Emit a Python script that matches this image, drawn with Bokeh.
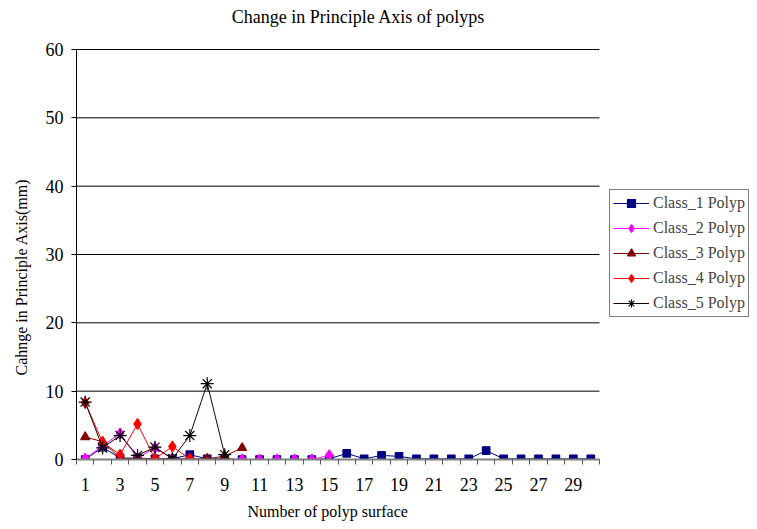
import math
from bokeh.plotting import figure
from bokeh.models import (Range1d, FixedTicker, Legend, LegendItem, Title, Label)
from bokeh.embed import file_html
from bokeh.resources import INLINE

# ---- data ----
surfaces = list(range(1, 31))
class_1 = [0.0, 1.8, 0.2, 0.2, 0.1, 0.1, 0.7, 0.1, 0.1, 0.0, 0.0, 0.0, 0.0, 0.0, 0.1,
           0.9, 0.1, 0.6, 0.45, 0.1, 0.1, 0.1, 0.1, 1.3, 0.1, 0.1, 0.1, 0.1, 0.1, 0.1]
class_2 = [0.1, 2.0, 3.8, 0.2, 1.7, 0.1, 0.0, 0.0, 0.0, 0.0, 0.0, 0.0, 0.0, 0.0, 0.6]
class_3 = [3.3, 2.6, 0.2, 0.1, 0.1, 0.1, 0.1, 0.1, 0.5, 1.7]
class_4 = [8.3, 2.5, 0.7, 5.2, 0.1, 1.9, 0.1]
class_5 = [8.4, 1.7, 3.5, 0.6, 1.8, 0.1, 3.5, 11.1, 0.7]
series_names = ["Class_1 Polyp", "Class_2 Polyp", "Class_3 Polyp", "Class_4 Polyp", "Class_5 Polyp"]
y_ticks = [0, 10, 20, 30, 40, 50, 60]
x_tick_labels = ["1", "3", "5", "7", "9", "11", "13", "15", "17", "19", "21", "23", "25", "27", "29"]
title_text = "Change in Principle Axis of polyps"

FONT = "Liberation Serif"

# layout (pixels): plot area 523x410, extended right for the legend and up for the title
PLOT_W, PLOT_H = 523, 410
FRAME_W, FRAME_H = 674, 459
x_lo, x_hi = 0.5, 30.5
y_lo, y_hi = 0, 60
x_end = x_lo + (x_hi - x_lo) * FRAME_W / PLOT_W
y_end = y_lo + (y_hi - y_lo) * FRAME_H / PLOT_H
px_x = (x_hi - x_lo) / PLOT_W
px_y = (y_hi - y_lo) / PLOT_H

p = figure(frame_width=FRAME_W, frame_height=FRAME_H, output_backend="svg", toolbar_location=None,
           x_range=Range1d(x_lo, x_end), y_range=Range1d(y_lo, y_end),
           min_border_left=76, min_border_right=0, min_border_top=0, min_border_bottom=66)
p.outline_line_color = None
p.background_fill_color = "white"
p.border_fill_color = "white"

# chart title (centred at 282 px right of the plot's left edge, 33 px above its top)
p.add_layout(Label(x=x_lo + 282 * px_x, y=y_hi + 33 * px_y, text=title_text,
                   text_align="center", text_baseline="middle",
                   text_font=FONT, text_font_size="18px", text_color="black"))

# grid lines only across the category area
p.xgrid.grid_line_color = None
p.ygrid.grid_line_color = None
p.segment(x0=[x_lo] * len(y_ticks), y0=y_ticks, x1=[x_hi] * len(y_ticks), y1=y_ticks,
          line_color="black", line_width=1)

# x axis
odd = [int(s) for s in x_tick_labels]
p.xaxis.ticker = FixedTicker(ticks=odd, minor_ticks=[s - 0.5 for s in surfaces] + [x_hi])
p.xaxis.major_label_overrides = {o: lab for o, lab in zip(odd, x_tick_labels)}
p.xaxis.bounds = (x_lo, x_hi)
p.xaxis.axis_line_color = "#808080"
p.xaxis.axis_line_width = 2
p.xaxis.major_tick_out = 0
p.xaxis.major_tick_in = 0
p.xaxis.minor_tick_out = 5
p.xaxis.minor_tick_in = 0
p.xaxis.minor_tick_line_color = "#555555"
p.xaxis.major_label_standoff = 13

# y axis
p.yaxis.ticker = FixedTicker(ticks=y_ticks)
p.yaxis.bounds = (y_lo, y_hi)
p.yaxis.axis_line_color = "black"
p.yaxis.major_tick_out = 5
p.yaxis.major_tick_in = 0
p.yaxis.minor_tick_line_color = None
p.yaxis.major_tick_line_color = "black"
p.yaxis.major_label_standoff = 8

for ax in (p.xaxis, p.yaxis):
    ax.major_label_text_font = FONT
    ax.major_label_text_font_size = "18px"
    ax.major_label_text_color = "black"

# axis titles
ytitle = Title(text="Cahnge in Principle Axis(mm)", align="left", offset=84,
               vertical_align="top", standoff=21,
               text_font=FONT, text_font_size="16px", text_font_style="normal",
               text_color="black")
p.add_layout(ytitle, "left")
xtitle = Title(text="Number of polyp surface", align="left", offset=171,
               vertical_align="top", standoff=18,
               text_font=FONT, text_font_size="16px", text_font_style="normal",
               text_color="black")
p.add_layout(xtitle, "below")

specs = [
    (class_1, "#000080", "#000080", "square", 7.5),
    (class_2, "#FF00FF", "#FF00FF", "diamond", 11),
    (class_3, "#800000", "#800000", "triangle", 9),
    (class_4, "#FF0000", "#FF0000", "diamond", 11),
    (class_5, "#1a0000", "#000000", "asterisk", 13),
]

items = []
for name, (vals, lcolor, mcolor, marker, size) in zip(series_names, specs):
    xs = surfaces[:len(vals)]
    lr = p.line(xs, vals, line_color=lcolor, line_width=1)
    sr = p.scatter(xs, vals, marker=marker, size=size,
                   fill_color=mcolor, line_color=mcolor, line_width=1.2)
    items.append(LegendItem(label=name, renderers=[lr, sr]))

legend = Legend(items=items, location=(533, 142))
legend.label_text_font = FONT
legend.label_text_font_size = "16px"
legend.border_line_color = "black"
legend.border_line_width = 1
legend.background_fill_color = "white"
legend.glyph_width = 36
legend.glyph_height = 20
legend.label_height = 20
legend.label_standoff = 4
legend.padding = 3
legend.spacing = 5
legend.margin = 0
p.add_layout(legend, "center")

open("out.html", "w").write(file_html(p, INLINE))
